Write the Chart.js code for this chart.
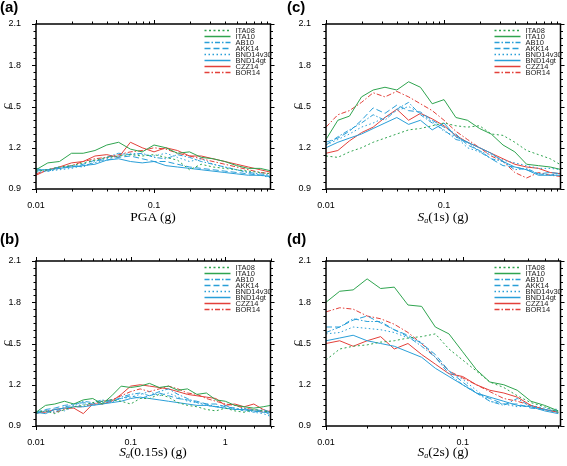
<!DOCTYPE html>
<html><head><meta charset="utf-8">
<script src="https://cdn.jsdelivr.net/npm/chart.js@4.4.1/dist/chart.umd.min.js"></script>
<style>
html,body{margin:0;padding:0;background:#fff;width:567px;height:466px;overflow:hidden;}
canvas{position:absolute;}
.lab{position:absolute;font:bold 15px "Liberation Sans",Arial,sans-serif;color:#000;line-height:16px;}
.xt{position:absolute;font:13.5px "Liberation Serif","Times New Roman",serif;white-space:nowrap;transform:translateX(-50%);line-height:14px;color:#000;}
.xt sub{font-size:8px;vertical-align:-2px;}
.yt{position:absolute;font:italic 13px "Liberation Serif",serif;width:12px;height:14px;line-height:14px;text-align:center;transform:rotate(-90deg);color:#000;}
</style></head><body>
<canvas id="ca" width="283" height="230" style="left:0;top:0"></canvas>
<canvas id="cc" width="277" height="230" style="left:290px;top:0"></canvas>
<canvas id="cb" width="283" height="229" style="left:0;top:237px"></canvas>
<canvas id="cd" width="277" height="229" style="left:290px;top:237px"></canvas>
<div class="lab" style="left:0;top:-1px">(a)</div>
<div class="lab" style="left:287px;top:-1px">(c)</div>
<div class="lab" style="left:0;top:231px">(b)</div>
<div class="lab" style="left:287px;top:231px">(d)</div>
<div class="yt" style="left:0;top:99px">c</div>
<div class="yt" style="left:290px;top:99px">c</div>
<div class="yt" style="left:0;top:336px">c</div>
<div class="yt" style="left:290px;top:336px">c</div>
<div class="xt" style="left:153px;top:210px">PGA (g)</div>
<div class="xt" style="left:443px;top:210px"><i>S</i><sub><i>a</i></sub>(1s) (g)</div>
<div class="xt" style="left:153px;top:445px"><i>S</i><sub><i>a</i></sub>(0.15s) (g)</div>
<div class="xt" style="left:443px;top:445px"><i>S</i><sub><i>a</i></sub>(2s) (g)</div>
<script>
// ---------- DATA ----------
const seriesNames = ['ITA08','ITA10','AB10','AKK14','BND14v30','BND14gt','CZZ14','BOR14'];
const xTickVals = [0.01,0.02,0.03,0.04,0.05,0.06,0.07,0.08,0.09,0.1,0.2,0.3,0.4,0.5,0.6,0.7,0.8,0.9,1,2,3];
const xTickLabels = [0.01,0.1,1];
const yTickLabels = [0.9,1.2,1.5,1.8,2.1];

// (a) PGA
const xPGA = [0.01,0.0126,0.0158,0.02,0.0251,0.0316,0.0398,0.0501,0.0631,0.0794,0.1,0.126,0.158,0.2,0.251,0.316,0.398,0.501,0.631,0.794,1.0];
const a_ITA08    = [1.03,1.04,1.06,1.07,1.09,1.11,1.13,1.14,1.15,1.14,1.15,1.13,1.11,1.04,1.08,1.06,1.05,1.04,1.03,1.02,1.01];
const a_ITA10    = [1.04,1.09,1.10,1.16,1.16,1.18,1.22,1.24,1.19,1.17,1.22,1.20,1.16,1.17,1.13,1.12,1.10,1.07,1.05,1.05,1.03];
const a_AB10     = [1.05,1.03,1.05,1.07,1.06,1.10,1.13,1.16,1.15,1.16,1.13,1.12,1.15,1.13,1.10,1.08,1.06,1.04,1.02,1.01,1.00];
const a_AKK14    = [1.03,1.04,1.06,1.06,1.08,1.11,1.11,1.13,1.14,1.12,1.10,1.10,1.08,1.06,1.05,1.04,1.03,1.02,1.01,1.00,0.99];
const a_BND14v30 = [1.02,1.03,1.04,1.05,1.07,1.09,1.12,1.14,1.16,1.15,1.14,1.16,1.13,1.10,1.12,1.08,1.06,1.04,1.02,1.00,0.98];
const a_BND14gt  = [1.04,1.04,1.05,1.06,1.07,1.08,1.11,1.12,1.10,1.09,1.10,1.07,1.06,1.05,1.04,1.03,1.02,1.01,1.00,1.00,0.99];
const a_CZZ14    = [1.00,1.04,1.06,1.09,1.10,1.14,1.15,1.13,1.24,1.20,1.17,1.20,1.18,1.14,1.14,1.12,1.10,1.08,1.06,1.04,1.02];
const a_BOR14    = [1.01,1.04,1.05,1.07,1.10,1.12,1.13,1.15,1.17,1.18,1.20,1.19,1.16,1.14,1.12,1.10,1.08,1.06,1.04,1.02,1.01];

// (c) Sa(1s)
const xSa1 = [0.01,0.0126,0.0158,0.02,0.0251,0.0316,0.0398,0.0501,0.0631,0.0794,0.1,0.126,0.158,0.2,0.251,0.316,0.398,0.501,0.631,0.794,1.0];
const c_ITA08    = [1.14,1.13,1.17,1.20,1.24,1.27,1.30,1.33,1.34,1.36,1.38,1.36,1.35,1.36,1.30,1.29,1.24,1.18,1.15,1.12,1.07];
const c_ITA10    = [1.26,1.40,1.43,1.57,1.62,1.64,1.62,1.68,1.64,1.52,1.55,1.42,1.40,1.34,1.30,1.22,1.17,1.08,1.07,1.06,1.04];
const c_AB10     = [1.22,1.28,1.33,1.38,1.44,1.40,1.48,1.53,1.44,1.38,1.33,1.26,1.24,1.17,1.12,1.10,1.04,1.05,1.01,1.00,1.02];
const c_AKK14    = [1.24,1.27,1.32,1.40,1.49,1.45,1.51,1.47,1.46,1.40,1.35,1.30,1.22,1.18,1.12,1.07,1.06,1.04,1.01,1.02,1.01];
const c_BND14v30 = [1.22,1.26,1.30,1.35,1.38,1.42,1.47,1.50,1.45,1.39,1.32,1.28,1.20,1.17,1.15,1.11,1.09,1.07,1.05,1.05,1.04];
const c_BND14gt  = [1.20,1.24,1.27,1.30,1.34,1.38,1.42,1.37,1.40,1.33,1.38,1.28,1.24,1.20,1.16,1.10,1.06,1.04,1.00,1.00,1.00];
const c_CZZ14    = [1.16,1.18,1.25,1.31,1.35,1.42,1.48,1.40,1.45,1.41,1.36,1.29,1.24,1.20,1.16,1.12,1.08,1.06,1.05,1.02,1.01];
const c_BOR14    = [1.35,1.44,1.47,1.53,1.60,1.57,1.61,1.57,1.52,1.47,1.40,1.32,1.26,1.20,1.14,1.10,1.02,0.98,1.02,1.00,0.99];

// (b) Sa(0.15s)
const xSa015 = [0.01,0.0126,0.0158,0.02,0.0251,0.0316,0.0398,0.0501,0.0631,0.0794,0.1,0.126,0.158,0.2,0.251,0.316,0.398,0.501,0.631,0.794,1.0,1.26,1.58,2.0,2.51,3.0];
const b_ITA08    = [1.00,1.01,0.99,1.02,1.04,1.05,1.07,1.08,1.09,1.08,1.06,1.10,1.10,1.13,1.11,1.07,1.05,1.04,1.02,1.01,1.03,1.01,1.00,1.02,1.01,1.00];
const b_ITA10    = [1.00,1.05,1.06,1.08,1.06,1.09,1.10,1.06,1.12,1.19,1.18,1.19,1.21,1.18,1.19,1.16,1.17,1.13,1.14,1.09,1.08,1.05,1.04,1.03,1.04,1.05];
const b_AB10     = [0.99,1.01,1.00,1.04,1.05,1.08,1.07,1.09,1.07,1.11,1.13,1.14,1.12,1.15,1.17,1.13,1.10,1.07,1.06,1.04,1.05,1.02,1.03,1.00,1.02,1.00];
const b_AKK14    = [1.00,1.02,1.03,1.05,1.06,1.07,1.06,1.08,1.09,1.10,1.12,1.10,1.12,1.14,1.12,1.10,1.09,1.08,1.06,1.06,1.04,1.03,1.01,1.02,1.01,0.98];
const b_BND14v30 = [1.00,1.01,1.02,1.01,1.04,1.06,1.05,1.07,1.08,1.10,1.11,1.13,1.15,1.12,1.14,1.11,1.08,1.07,1.05,1.04,1.03,1.03,1.01,1.00,0.99,0.97];
const b_BND14gt  = [1.00,0.99,1.02,1.03,1.04,1.04,1.05,1.06,1.07,1.08,1.10,1.11,1.10,1.09,1.08,1.07,1.06,1.05,1.05,1.04,1.03,1.02,1.02,1.01,1.00,1.00];
const b_CZZ14    = [1.00,1.00,1.02,1.03,1.03,0.99,1.06,1.06,1.08,1.13,1.19,1.20,1.19,1.18,1.17,1.15,1.13,1.12,1.11,1.10,1.05,1.06,1.04,1.06,1.02,1.00];
const b_BOR14    = [0.99,1.01,1.00,1.02,1.04,1.04,1.06,1.08,1.09,1.12,1.15,1.17,1.15,1.17,1.19,1.17,1.14,1.13,1.10,1.08,1.06,1.05,1.03,1.02,1.00,1.01];

// (d) Sa(2s)
const xSa2 = [0.01,0.0126,0.0158,0.02,0.0251,0.0316,0.0398,0.0501,0.0631,0.0794,0.1,0.126,0.158,0.2,0.251,0.316,0.398,0.501];
const d_ITA08    = [1.38,1.46,1.48,1.49,1.51,1.52,1.54,1.55,1.57,1.46,1.38,1.30,1.22,1.18,1.12,1.07,1.04,1.00];
const d_ITA10    = [1.80,1.88,1.89,1.97,1.90,1.91,1.78,1.77,1.62,1.57,1.44,1.31,1.22,1.20,1.16,1.08,1.05,1.01];
const d_AB10     = [1.58,1.62,1.68,1.66,1.66,1.60,1.55,1.48,1.40,1.28,1.20,1.14,1.08,1.05,1.10,1.04,1.02,1.01];
const d_AKK14    = [1.62,1.62,1.67,1.70,1.65,1.60,1.56,1.50,1.42,1.30,1.22,1.14,1.10,1.06,1.06,1.03,1.02,1.00];
const d_BND14v30 = [1.57,1.58,1.62,1.61,1.60,1.58,1.54,1.51,1.40,1.30,1.24,1.16,1.08,1.06,1.04,1.05,1.03,1.02];
const d_BND14gt  = [1.52,1.54,1.56,1.52,1.50,1.48,1.44,1.40,1.32,1.26,1.20,1.14,1.11,1.08,1.05,1.04,1.01,0.99];
const d_CZZ14    = [1.50,1.52,1.48,1.52,1.55,1.46,1.50,1.42,1.35,1.28,1.26,1.20,1.16,1.14,1.11,1.05,1.02,1.00];
const d_BOR14    = [1.73,1.76,1.75,1.70,1.68,1.64,1.58,1.50,1.40,1.30,1.25,1.20,1.15,1.10,1.08,1.05,1.02,1.00];

// ---------- STYLE ----------
const GREEN='#2fa44f', BLUE='#2a9fd8', RED='#e3403a';
const STY = {
  ITA08:{c:GREEN,d:[2,2.5]}, ITA10:{c:GREEN,d:[]},
  AB10:{c:BLUE,d:[5,2,1.5,2]}, AKK14:{c:BLUE,d:[6,3]},
  BND14v30:{c:BLUE,d:[1.5,2.5]}, BND14gt:{c:BLUE,d:[]},
  CZZ14:{c:RED,d:[]}, BOR14:{c:RED,d:[5,2,1.5,2]}
};
const near = (v, arr) => arr.some(a => Math.abs(v - a) < 1e-9 * Math.max(1, Math.abs(a)) + 1e-9);

const framePlugin = {
  id:'frame',
  afterDraw(chart){
    const {ctx, chartArea:ca} = chart;
    const xs = chart.scales.x, ys = chart.scales.y;
    ctx.save();
    ctx.strokeStyle='#000'; ctx.lineWidth=1;
    xs.ticks.forEach(t=>{
      const p = Math.round(xs.getPixelForValue(t.value))+0.5;
      const L = near(t.value, xTickLabels) ? 4 : 2.5;
      ctx.beginPath();
      ctx.moveTo(p, ca.bottom); ctx.lineTo(p, ca.bottom+L);
      ctx.moveTo(p, ca.top); ctx.lineTo(p, ca.top-L);
      ctx.stroke();
    });
    ys.ticks.forEach(t=>{
      const p = Math.round(ys.getPixelForValue(t.value))+0.5;
      const L = near(t.value, yTickLabels) ? 4 : 2.5;
      ctx.beginPath();
      ctx.moveTo(ca.left, p); ctx.lineTo(ca.left-L, p);
      ctx.moveTo(ca.right, p); ctx.lineTo(ca.right+L, p);
      ctx.stroke();
    });
    ctx.lineWidth=1.5;
    ctx.strokeRect(ca.left, ca.top, ca.right-ca.left, ca.bottom-ca.top);
    ctx.restore();
  }
};
const legendPlugin = {
  id:'inlegend',
  afterDraw(chart){
    const {ctx, chartArea:ca} = chart;
    ctx.save();
    ctx.font = '7.5px "Liberation Sans", Arial, sans-serif';
    ctx.textBaseline='middle'; ctx.textAlign='left';
    chart.data.datasets.forEach((ds,i)=>{
      const y = ca.top + 6.5 + 6*i;
      ctx.strokeStyle = ds.borderColor; ctx.lineWidth=1.5;
      ctx.setLineDash(ds.borderDash||[]);
      ctx.beginPath(); ctx.moveTo(ca.right-66, y); ctx.lineTo(ca.right-40, y); ctx.stroke();
      ctx.setLineDash([]);
      ctx.fillStyle='#222';
      ctx.fillText(ds.label, ca.right-35, y+0.5);
    });
    ctx.restore();
  }
};

function makePanel(id, xs, ys, xmin, xmax, W, H){
  const datasets = seriesNames.map(n=>({
    label:n,
    data: xs.map((x,i)=>({x:x, y:ys[n][i]})),
    borderColor:STY[n].c, borderDash:STY[n].d, borderWidth:1,
    pointRadius:0, fill:false, tension:0
  }));
  new Chart(document.getElementById(id), {
    type:'line',
    data:{datasets},
    options:{
      responsive:false, animation:false, devicePixelRatio:1, events:[],
      layout:{padding:{top:24, right:W-270.5, left:0, bottom:0}},
      plugins:{legend:{display:false}, tooltip:{enabled:false}},
      scales:{
        x:{type:'logarithmic', min:xmin, max:xmax,
          afterBuildTicks:s=>{ s.ticks = xTickVals.filter(v=>v>=xmin*0.999 && v<=xmax*1.001).map(v=>({value:v})); },
          afterFit:s=>{ s.height = H-189; },
          grid:{display:true, drawOnChartArea:false, drawTicks:true, tickLength:4, color:'rgba(0,0,0,0)'},
          border:{display:false},
          ticks:{autoSkip:false, maxRotation:0, minRotation:0, padding:7, color:'#000',
            font:{family:'"Liberation Sans", Arial, sans-serif', size:9},
            callback:(v)=> near(v, xTickLabels) ? String(+v.toPrecision(3)) : ''}
        },
        y:{type:'linear', min:0.9, max:2.1,
          afterBuildTicks:s=>{ const t=[]; for(let k=0;k<=24;k++) t.push({value:+(0.9+0.05*k).toFixed(2)}); s.ticks=t; },
          afterFit:s=>{ s.width = 36; },
          grid:{display:true, drawOnChartArea:false, drawTicks:true, tickLength:4, color:'rgba(0,0,0,0)'},
          border:{display:false},
          ticks:{autoSkip:false, padding:11, color:'#000',
            font:{family:'"Liberation Sans", Arial, sans-serif', size:9},
            callback:(v)=> near(v, yTickLabels) ? v.toFixed(1) : ''}
        }
      }
    },
    plugins:[framePlugin, legendPlugin]
  });
}

makePanel('ca', xPGA, {ITA08:a_ITA08,ITA10:a_ITA10,AB10:a_AB10,AKK14:a_AKK14,BND14v30:a_BND14v30,BND14gt:a_BND14gt,CZZ14:a_CZZ14,BOR14:a_BOR14}, 0.01, 0.97, 283, 230);
makePanel('cc', xSa1, {ITA08:c_ITA08,ITA10:c_ITA10,AB10:c_AB10,AKK14:c_AKK14,BND14v30:c_BND14v30,BND14gt:c_BND14gt,CZZ14:c_CZZ14,BOR14:c_BOR14}, 0.01, 0.97, 277, 230);
makePanel('cb', xSa015, {ITA08:b_ITA08,ITA10:b_ITA10,AB10:b_AB10,AKK14:b_AKK14,BND14v30:b_BND14v30,BND14gt:b_BND14gt,CZZ14:b_CZZ14,BOR14:b_BOR14}, 0.01, 3.0, 283, 229);
makePanel('cd', xSa2, {ITA08:d_ITA08,ITA10:d_ITA10,AB10:d_AB10,AKK14:d_AKK14,BND14v30:d_BND14v30,BND14gt:d_BND14gt,CZZ14:d_CZZ14,BOR14:d_BOR14}, 0.01, 0.52, 277, 229);
</script>
</body></html>
